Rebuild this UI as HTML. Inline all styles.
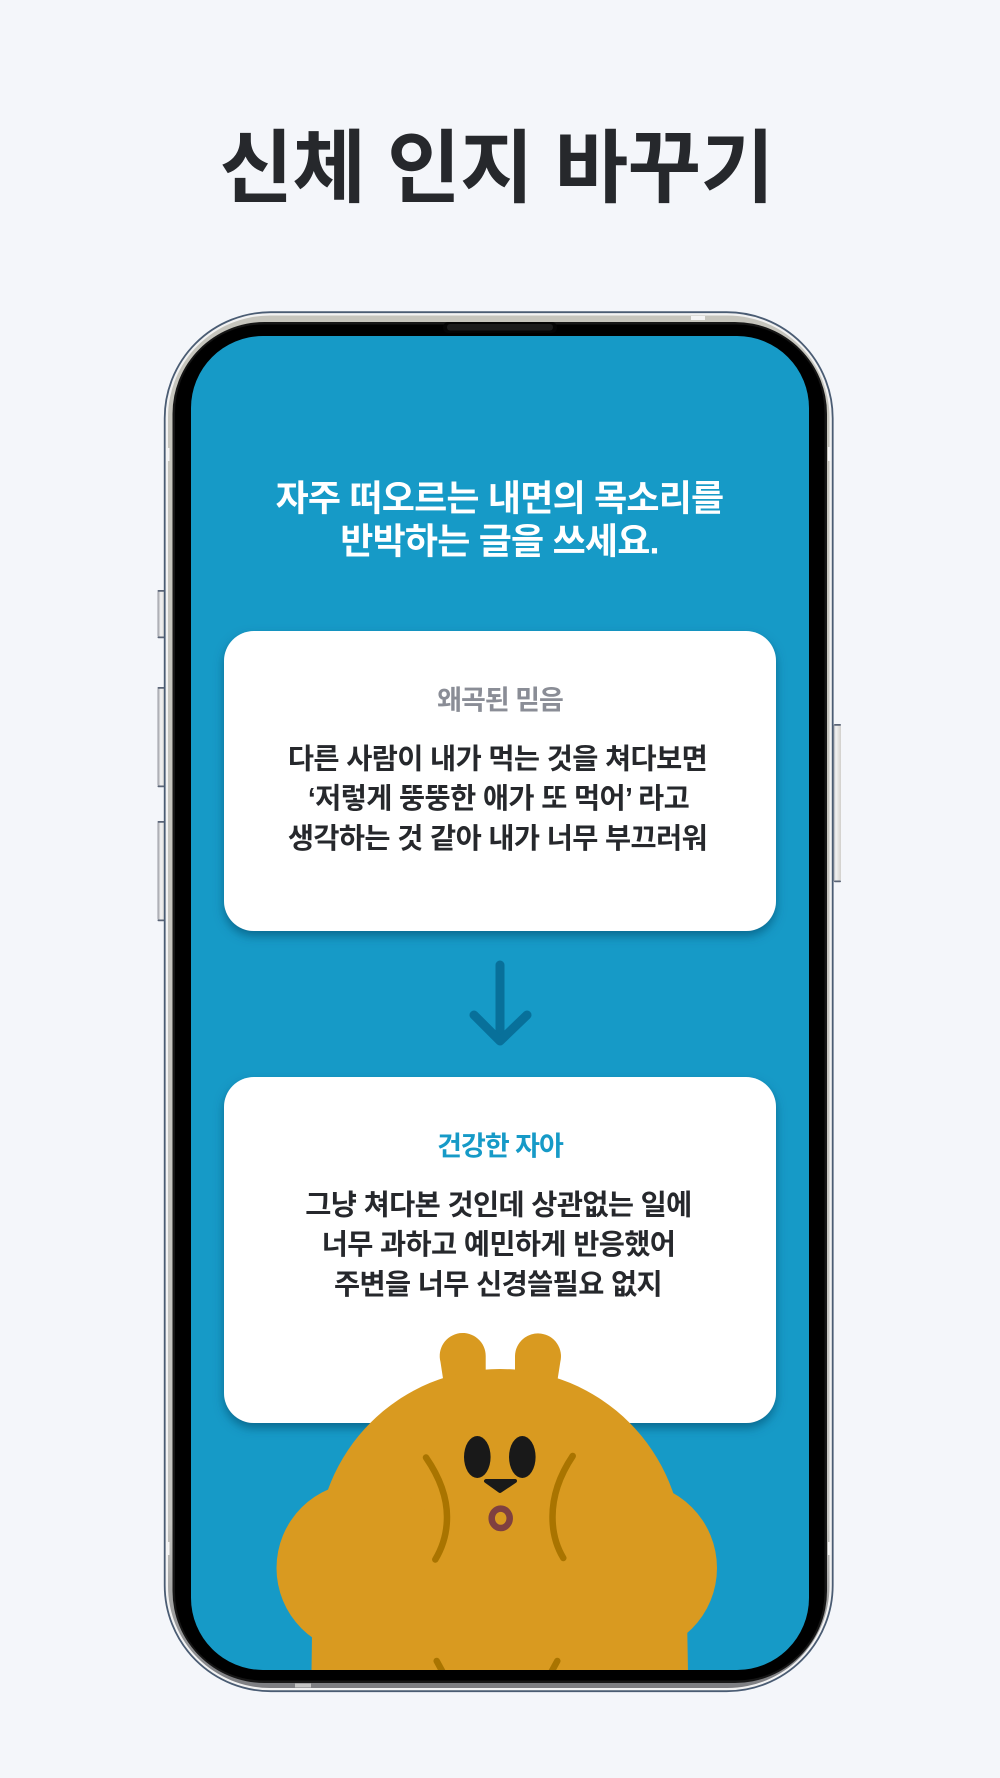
<!DOCTYPE html>
<html lang="ko">
<head>
<meta charset="utf-8">
<style>
html,body{margin:0;padding:0;background:#f4f6fa;width:1000px;height:1778px;overflow:hidden}
svg{display:block}
text{font-family:"Liberation Sans","Noto Sans CJK KR",sans-serif;text-anchor:middle;font-weight:700}
</style>
</head>
<body>
<svg width="1000" height="1778" viewBox="0 0 1000 1778" xmlns="http://www.w3.org/2000/svg">
<defs>
<clipPath id="scr"><rect x="191" y="336" width="618" height="1334" rx="72" ry="72"/></clipPath>
<filter id="sh" x="-10%" y="-10%" width="120%" height="120%"><feDropShadow dx="0" dy="5" stdDeviation="5" flood-color="#004a6a" flood-opacity=".6"/></filter>
<linearGradient id="btn" x1="0" x2="1" y1="0" y2="0"><stop offset="0" stop-color="#8f919a"/><stop offset=".35" stop-color="#f3f3f3"/><stop offset="1" stop-color="#d2d0cc"/></linearGradient>
<linearGradient id="band" x1="0" x2="0" y1="0" y2="1"><stop offset="0" stop-color="#c6c5bd"/><stop offset=".88" stop-color="#c4c4c0"/><stop offset="1" stop-color="#7d7e82"/></linearGradient>
</defs>
<rect width="1000" height="1778" fill="#f4f6fa"/>

<!-- side buttons -->
<g fill="url(#btn)">
<rect x="157.5" y="590" width="9" height="48" rx="2.5"/>
<rect x="157.5" y="687" width="9" height="100" rx="2.5"/>
<rect x="157.5" y="821" width="9" height="100" rx="2.5"/>
<rect x="833" y="724" width="8" height="158" rx="2.5"/>
</g>
<g fill="#5a6476">
<rect x="157.5" y="590" width="7" height="1.8" rx=".9"/><rect x="157.5" y="636.5" width="7" height="1.8" rx=".9"/>
<rect x="157.5" y="687" width="7" height="1.8" rx=".9"/><rect x="157.5" y="785.5" width="7" height="1.8" rx=".9"/>
<rect x="157.5" y="821" width="7" height="1.8" rx=".9"/><rect x="157.5" y="919.5" width="7" height="1.8" rx=".9"/>
<rect x="834" y="724" width="7" height="1.8" rx=".9"/><rect x="834" y="880.5" width="7" height="1.8" rx=".9"/>
</g>

<!-- phone frame -->
<rect x="164.7" y="312.2" width="668" height="1379" rx="106" ry="106" fill="#f2f2f2" stroke="#4a5c73" stroke-width="1.8"/>
<rect x="168" y="315.5" width="661.5" height="1372.5" rx="102" ry="102" fill="url(#band)"/>
<rect x="172.5" y="322" width="654.5" height="1361" rx="92" ry="92" fill="#161616"/>
<rect x="175" y="324.5" width="649.5" height="1356" rx="88" ry="88" fill="#000"/>
<!-- antenna marks -->
<g fill="#f4f4f4">
<rect x="166" y="448" width="3.5" height="13"/>
<rect x="166" y="1542" width="3.5" height="13"/>
<rect x="828" y="447" width="3.5" height="14"/>
<rect x="828" y="1542" width="3.5" height="13"/>
<rect x="691" y="316" width="14" height="4"/>
<rect x="295" y="1683.5" width="16" height="4" fill="#c4c4c4"/>
</g>
<!-- speaker -->
<rect x="443" y="322" width="114" height="11" rx="5" fill="#050505"/>
<rect x="447" y="324" width="106" height="6.5" rx="3" fill="#1b1b1b"/>
<!-- screen -->
<rect x="191" y="336" width="618" height="1334" rx="72" ry="72" fill="#169ac7"/>

<!-- title -->
<text x="496.5" y="196" font-size="80" fill="#26282c" letter-spacing="-.6">신체 인지 바꾸기</text>

<!-- heading -->
<text x="499.5" y="510.5" font-size="36" fill="#ffffff" letter-spacing="-.8">자주 떠오르는 내면의 목소리를</text>
<text x="499.5" y="553.5" font-size="36" fill="#ffffff" letter-spacing="-.8">반박하는 글을 쓰세요.</text>

<!-- card 1 -->
<rect x="224" y="631" width="552" height="300" rx="30" fill="#fff" filter="url(#sh)"/>
<text x="500" y="709.5" font-size="27" fill="#8a8d96" letter-spacing="-1">왜곡된 믿음</text>
<text x="497.5" y="768.5" font-size="28.4" fill="#26282c" letter-spacing="-.6">다른 사람이 내가 먹는 것을 쳐다보면</text>
<text x="498.5" y="808" font-size="28.4" fill="#26282c" letter-spacing="-.6">‘저렇게 뚱뚱한 애가 또 먹어’ 라고</text>
<text x="497.5" y="848" font-size="28.4" fill="#26282c" letter-spacing="-.6">생각하는 것 같아 내가 너무 부끄러워</text>

<!-- arrow -->
<g fill="none" stroke="#08709a" stroke-width="9" stroke-linecap="round" stroke-linejoin="round">
<path d="M500 965V1039"/>
<path d="M474 1015L500 1041L527 1015"/>
</g>

<!-- card 2 -->
<rect x="224" y="1077" width="552" height="346" rx="30" fill="#fff" filter="url(#sh)"/>
<text x="500" y="1155.5" font-size="27" fill="#169ac7" letter-spacing="-1">건강한 자아</text>
<text x="498.5" y="1214.5" font-size="28.4" fill="#26282c" letter-spacing="-.6">그냥 쳐다본 것인데 상관없는 일에</text>
<text x="498.5" y="1254" font-size="28.4" fill="#26282c" letter-spacing="-.6">너무 과하고 예민하게 반응했어</text>
<text x="498" y="1294" font-size="28.4" fill="#26282c" letter-spacing="-.6">주변을 너무 신경쓸필요 없지</text>

<!-- bear -->
<g clip-path="url(#scr)">
<g fill="#d99a20">
<path d="M444 1385L440.5 1362A23 23 0 1 1 485.7 1356L485.7 1385Z"/>
<path d="M515 1385L515 1356A23 23 0 1 1 560.3 1362L556.7 1385Z"/>
<circle cx="500" cy="1552" r="183"/>
<circle cx="362" cy="1568" r="85.5"/>
<circle cx="631" cy="1568" r="86"/>
<path d="M313 1560L311.5 1672H688L686 1560Z"/>
</g>
<g fill="none" stroke="#a97400" stroke-width="6.5" stroke-linecap="round">
<path d="M426 1457.5Q447 1488 447 1517Q447 1540 435.3 1559.5"/>
<path d="M572.7 1456Q552.5 1486 552.5 1517Q552.5 1540 563.3 1558"/>
<path d="M436.7 1661L447 1680"/>
<path d="M557.3 1661L547 1680"/>
</g>
<ellipse cx="477.3" cy="1457" rx="13.3" ry="21" fill="#191919"/>
<ellipse cx="522.3" cy="1457" rx="13.3" ry="21" fill="#191919"/>
<path d="M486 1481H515L500 1491Z" fill="#191919" stroke="#191919" stroke-width="4" stroke-linejoin="round"/>
<ellipse cx="500.7" cy="1518.3" rx="9" ry="9.7" fill="#d99a20" stroke="#7f4040" stroke-width="6.5"/>
</g>
</svg>
</body>
</html>
